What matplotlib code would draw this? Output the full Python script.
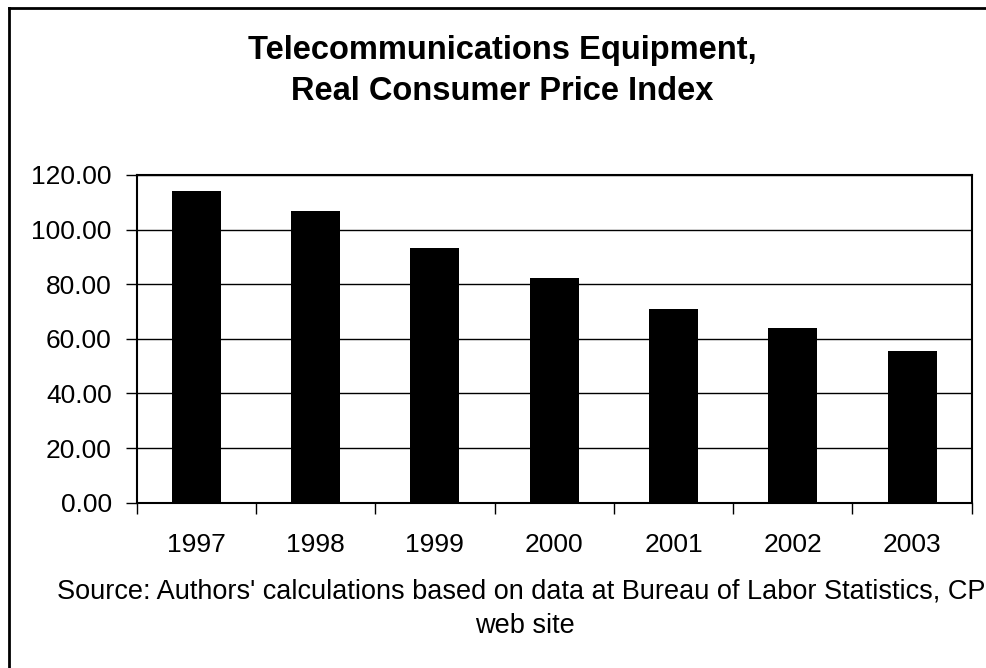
import numpy as np
import matplotlib
matplotlib.use("Agg")
import matplotlib.pyplot as plt
from matplotlib.lines import Line2D
from matplotlib.ticker import FixedLocator, NullFormatter, FixedFormatter

plt.rcParams['font.family'] = ['Liberation Sans', 'DejaVu Sans']

years = ['1997', '1998', '1999', '2000', '2001', '2002', '2003']
cpi = [114.3, 107.0, 93.4, 82.2, 71.0, 64.0, 55.4]
yticks = [0, 20, 40, 60, 80, 100, 120]

fig = plt.figure(figsize=(9.86, 6.68), dpi=100)
ax = fig.add_axes([136.7/986, 1-502.7/668, (971.7-136.7)/986, (502.7-175)/668])

x = np.arange(len(years))
ax.bar(x, cpi, width=0.41, color='black', zorder=3)

ax.set_xlim(-0.5, len(years)-0.5)
ax.set_ylim(0, 120)
ax.set_yticks(yticks)
ax.set_yticklabels(['%.2f' % v for v in yticks], fontsize=19)
ax.yaxis.grid(True, color='black', linewidth=1)
ax.set_axisbelow(True)

# boundaries as major ticks, labels on minor ticks at centres
ax.xaxis.set_major_locator(FixedLocator(np.arange(-0.5, len(years), 1.0)))
ax.xaxis.set_major_formatter(NullFormatter())
ax.xaxis.set_minor_locator(FixedLocator(x))
ax.xaxis.set_minor_formatter(FixedFormatter(years))
ax.tick_params(axis='x', which='major', direction='out', length=8, width=1)
ax.tick_params(axis='x', which='minor', length=0, labelsize=19, pad=22)
ax.tick_params(axis='y', direction='out', length=8, width=1, pad=10)

for s in ax.spines.values():
    s.set_linewidth(1.5)
    s.set_color('black')

fig.text(502/986, 1-50/668, 'Telecommunications Equipment,', ha='center', va='center',
         fontsize=23.5, fontweight='bold')
fig.text(502/986, 1-92/668, 'Real Consumer Price Index', ha='center', va='center',
         fontsize=23.5, fontweight='bold')

fig.text(525/986, 1-592/668, "Source: Authors' calculations based on data at Bureau of Labor Statistics, CPI",
         ha='center', va='center', fontsize=19.5)
fig.text(525/986, 1-626/668, 'web site', ha='center', va='center', fontsize=19.5)

# outer chart frame (runs off the right and bottom edges)
fig.add_artist(Line2D([8.5/986, 8.5/986], [0, 1-7.5/668], color='black', linewidth=2))
fig.add_artist(Line2D([8.5/986, 1.0], [1-7.5/668, 1-7.5/668], color='black', linewidth=2))

fig.savefig('out.png', dpi=100)
